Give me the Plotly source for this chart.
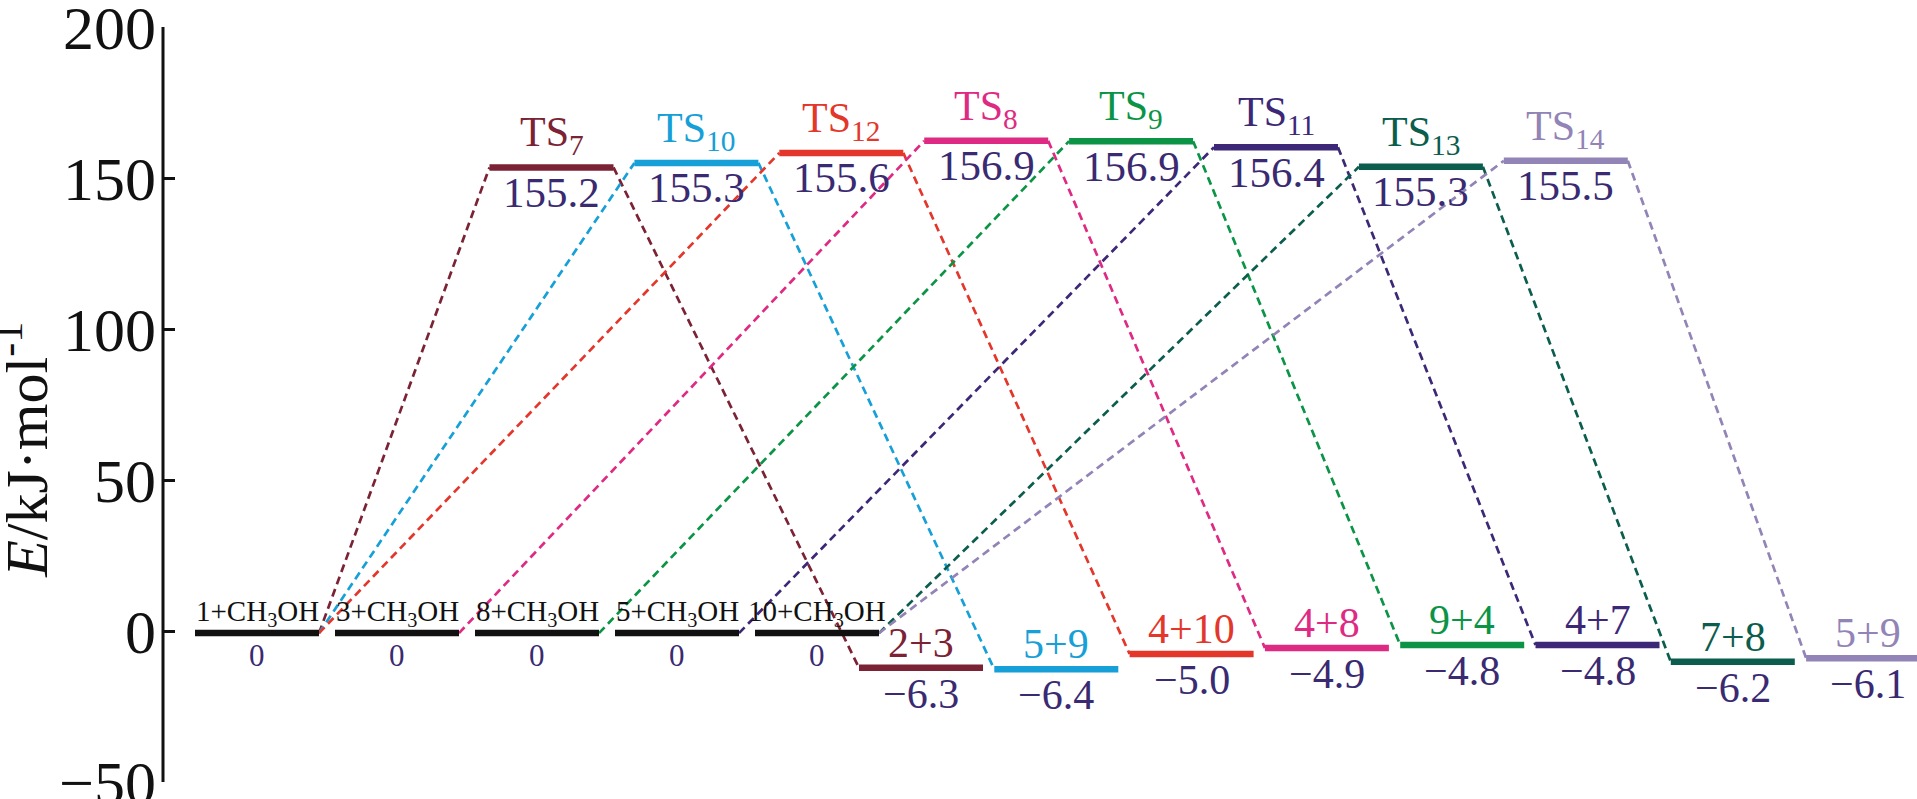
import plotly.graph_objects as go

# ---------------- data ----------------
reactant_labels = ["1+CH<sub>3</sub>OH", "3+CH<sub>3</sub>OH", "8+CH<sub>3</sub>OH",
                   "5+CH<sub>3</sub>OH", "10+CH<sub>3</sub>OH"]
reactant_energy = [0, 0, 0, 0, 0]
reactant_level = [-0.7, -0.7, -0.7, -0.7, -0.7]

ts_labels = ["TS<sub>7</sub>", "TS<sub>10</sub>", "TS<sub>12</sub>", "TS<sub>8</sub>",
             "TS<sub>9</sub>", "TS<sub>11</sub>", "TS<sub>13</sub>", "TS<sub>14</sub>"]
ts_energy = [155.2, 155.3, 155.6, 156.9, 156.9, 156.4, 155.3, 155.5]
ts_level = [153.5, 155.0, 158.3, 162.3, 162.2, 160.2, 153.7, 155.7]

product_labels = ["2+3", "5+9", "4+10", "4+8", "9+4", "4+7", "7+8", "5+9"]
product_energy = [-6.3, -6.4, -5.0, -4.9, -4.8, -4.8, -6.2, -6.1]
product_level = [-12.2, -12.7, -7.6, -5.6, -4.6, -4.6, -10.2, -9.0]

# which reactant each pathway (TS) starts from
pathway_reactant = [0, 0, 0, 1, 2, 3, 4, 4]

path_colors = ["#7B2335", "#17A0D7", "#E3372C", "#DF2A84",
               "#0B9446", "#3D2877", "#0B5D4D", "#9284B6"]
value_color = "#3A2A72"
black = "#111111"

yticks = [-50, 0, 50, 100, 150, 200]

# ---------------- layout helpers ----------------
R_X0, R_DX = 257, 140.0
T_X0, T_DX = 551.5, 144.9
P_X0, P_DX = 921.0, 135.3
HALF = 62
FONT = "Liberation Serif"


def fmt(v):
    if v == 0:
        return "0"
    return f"{v:.1f}".replace("-", "\u2212")


rx = [R_X0 + i * R_DX for i in range(len(reactant_labels))]
tx = [T_X0 + i * T_DX for i in range(len(ts_labels))]
px = [P_X0 + i * P_DX for i in range(len(product_labels))]

fig = go.Figure()

# dashed connectors
for i, c in enumerate(path_colors):
    r = pathway_reactant[i]
    fig.add_trace(go.Scatter(
        x=[rx[r] + HALF, tx[i] - HALF], y=[reactant_level[r], ts_level[i]],
        mode="lines", line=dict(color=c, width=2.7, dash="8px,5px"),
        hoverinfo="skip", showlegend=False))
    fig.add_trace(go.Scatter(
        x=[tx[i] + HALF, px[i] - HALF], y=[ts_level[i], product_level[i]],
        mode="lines", line=dict(color=c, width=2.7, dash="8px,5px"),
        hoverinfo="skip", showlegend=False))

# level bars
for i in range(len(reactant_labels)):
    fig.add_trace(go.Scatter(
        x=[rx[i] - HALF, rx[i] + HALF], y=[reactant_level[i]] * 2,
        mode="lines", line=dict(color=black, width=6.5),
        hoverinfo="skip", showlegend=False))
for i, c in enumerate(path_colors):
    fig.add_trace(go.Scatter(
        x=[tx[i] - HALF, tx[i] + HALF], y=[ts_level[i]] * 2,
        mode="lines", line=dict(color=c, width=6.5),
        hoverinfo="skip", showlegend=False))
    fig.add_trace(go.Scatter(
        x=[px[i] - HALF, px[i] + HALF], y=[product_level[i]] * 2,
        mode="lines", line=dict(color=c, width=6.5),
        hoverinfo="skip", showlegend=False))

ann = []


def label(x, y, text, color, size, shift):
    ann.append(dict(x=x, y=y, xref="x", yref="y", text=text, showarrow=False,
                    xanchor="center", yanchor="middle", yshift=shift,
                    font=dict(family=FONT, size=size, color=color)))


for i, t in enumerate(reactant_labels):
    label(rx[i], reactant_level[i], t, black, 29, 20)
    label(rx[i], reactant_level[i], fmt(reactant_energy[i]), value_color, 31, -22)
for i, t in enumerate(ts_labels):
    label(tx[i], ts_level[i], t, path_colors[i], 42, 32)
    label(tx[i], ts_level[i], fmt(ts_energy[i]), value_color, 43, -25)
for i, t in enumerate(product_labels):
    label(px[i], product_level[i], t, path_colors[i], 42, 25)
    label(px[i], product_level[i], fmt(product_energy[i]), value_color, 42, -26)

# axis title
ann.append(dict(x=0, y=0.44, xref="paper", yref="paper", xshift=-140,
                text="<i>E</i>/kJ\u00b7mol<sup>-1</sup>", textangle=-90,
                showarrow=False, xanchor="center", yanchor="middle",
                font=dict(family=FONT, size=60, color=black)))

fig.update_layout(
    width=1917, height=799, autosize=False,
    margin=dict(l=163, r=0, t=27, b=17, pad=0, autoexpand=False),
    paper_bgcolor="white", plot_bgcolor="white",
    showlegend=False,
    annotations=ann,
    shapes=[dict(type="line", xref="paper", yref="y", x0=0, x1=0,
                 y0=min(yticks), y1=max(yticks),
                 line=dict(color=black, width=3), layer="above")],
    xaxis=dict(visible=False, range=[163, 1917], fixedrange=True, automargin=False),
    yaxis=dict(range=[-50, 200], tickvals=yticks,
               ticktext=[str(v).replace("-", "\u2212") for v in yticks],
               showline=False,
               ticks="inside", ticklen=12, tickwidth=3, tickcolor=black,
               tickfont=dict(family=FONT, size=62, color=black),
               ticklabelstandoff=6, ticklabeloverflow="allow", automargin=False,
               showgrid=False, zeroline=False, fixedrange=True),
)

fig.write_html("out.html", config={"displayModeBar": False},
               post_script="document.body.style.margin='0';document.body.style.overflow='hidden';")
